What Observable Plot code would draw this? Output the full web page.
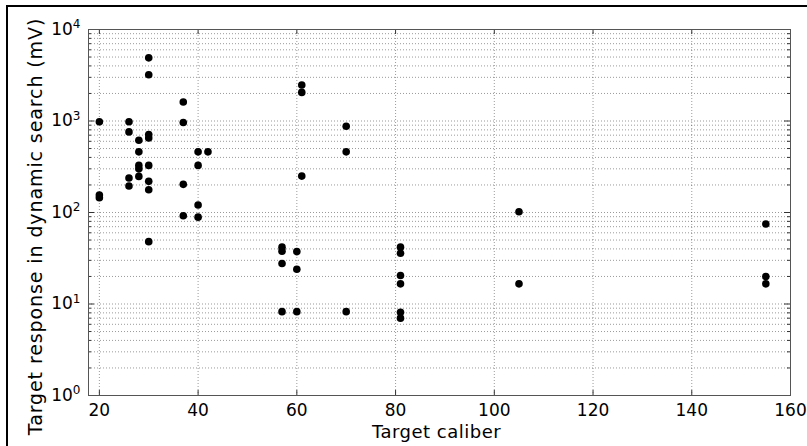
<!DOCTYPE html>
<html><head><meta charset="utf-8">
<script src="https://cdn.jsdelivr.net/npm/d3@7"></script>
<script src="https://cdn.jsdelivr.net/npm/@observablehq/plot@0.6"></script>
<style>
body{margin:0;background:#fff;}
#wrap{position:relative;width:807px;height:446px;overflow:hidden;}
#wrap::before{content:"";position:absolute;left:6px;top:5px;right:-10px;bottom:-10px;border-top:2px solid #000;border-left:2px solid #000;pointer-events:none;}
svg{display:block;}
</style></head><body><div id="wrap"></div>
<script>
const caliber = [
  20,20,20,
  26,26,26,26,
  28,28,28,28,28,
  30,30,30,30,30,30,30,30,
  37,37,37,37,
  40,40,40,40,
  42,
  57,57,57,57,
  60,60,60,
  61,61,61,
  70,70,70,
  81,81,81,81,81,81,
  105,105,
  155,155,155
];
const response = [
  980,155,145,
  980,760,238,195,
  617,460,327,300,248,
  4900,3200,712,653,327,219,177,48,
  1614,962,203,92,
  460,327,121,89,
  460,
  41.8,37.8,27.7,8.25,
  37.4,24,8.25,
  2470,2055,250,
  877,460,8.25,
  41.8,35.9,20.5,16.6,8.1,7.0,
  102,16.6,
  75,20,16.6
];
const xTicks = [20,40,60,80,100,120,140,160];
const yTicks = [1,10,100,1000,10000];
const xDomain = [17.8,160];
const yDomain = [1,10000];

const data = caliber.map((c,i)=>({caliber:c, response:response[i]}));
const yMinor = [];
for (const d of [1,10,100,1000]) for (let m=2;m<=9;m++) yMinor.push(d*m);

const W=807,H=446,mL=88,mR=17,mT=29,mB=51;
const pxPerDecade=(H-mT-mB)/Math.log10(yDomain[1]/yDomain[0]);
const pxPerUnit=(W-mL-mR)/(xDomain[1]-xDomain[0]);
const yk=(px)=>Math.pow(10,px/pxPerDecade);
const xk=(px)=>px/pxPerUnit;

const grid = {stroke:"#000", strokeOpacity:0.4, strokeDasharray:"1,2", strokeWidth:1};
const tickCol="#333";

const chart = Plot.plot({
  width:W, height:H,
  marginLeft:mL, marginRight:mR, marginTop:mT, marginBottom:mB,
  style:{fontFamily:"'DejaVu Sans', sans-serif", fontSize:"17px", background:"#fff", color:"#000"},
  x:{domain:xDomain, ticks:xTicks},
  y:{type:"log", domain:yDomain, ticks:yTicks},
  marks:[
    Plot.ruleX(xTicks,{x:d=>d, ...grid}),
    Plot.ruleY(yTicks.concat(yMinor),{y:d=>d, ...grid}),
    Plot.ruleX(xTicks,{x:d=>d, y1:yDomain[0], y2:yDomain[0]*yk(5), stroke:tickCol}),
    Plot.ruleX(xTicks,{x:d=>d, y1:yDomain[1]/yk(5), y2:yDomain[1], stroke:tickCol}),
    Plot.ruleY(yTicks,{y:d=>d, x1:xDomain[0], x2:xDomain[0]+xk(6), stroke:tickCol}),
    Plot.ruleY(yTicks,{y:d=>d, x1:xDomain[1]-xk(6), x2:xDomain[1], stroke:tickCol}),
    Plot.ruleY(yMinor,{y:d=>d, x1:xDomain[0], x2:xDomain[0]+xk(3), stroke:tickCol}),
    Plot.ruleY(yMinor,{y:d=>d, x1:xDomain[1]-xk(3), x2:xDomain[1], stroke:tickCol}),
    Plot.frame({stroke:"#555", strokeWidth:1}),
    Plot.axisX({ticks:xTicks, tickSize:0, tickPadding:8, label:null, tickFormat:d=>String(d)}),
    Plot.axisY({ticks:yTicks, tickSize:0, tickPadding:8, label:null, tickFormat:d=>"10|"+Math.round(Math.log10(d))}),
    Plot.text(["Target caliber"],{frameAnchor:"bottom", dx:-3, dy:42, fontSize:18, fill:"#000"}),
    Plot.text(["Target response in dynamic search (mV)"],{frameAnchor:"left", textAnchor:"middle", rotate:-90, dx:-53, dy:14, fontSize:19, fill:"#000"}),
    Plot.dot(data,{x:"caliber", y:"response", r:3.8, fill:"#000", stroke:"none"})
  ]
});
document.getElementById("wrap").appendChild(chart);
d3.select(chart).selectAll('g[aria-label="text"] text').each(function(){
  const t=this.textContent;
  if (t.startsWith("Target response")) this.setAttribute("letter-spacing","0.9");
  if (t==="Target caliber") this.setAttribute("letter-spacing","0.5");
});
d3.select(chart).selectAll('g[aria-label="y-axis tick label"] text').each(function(){
  const t=this.textContent; if(!t.includes("|")) return;
  const [b,e]=t.split("|");
  const sel=d3.select(this); sel.text(null);
  sel.append("tspan").text(b);
  sel.append("tspan").attr("dy","-0.55em").attr("font-size","12px").text(e);
});
</script></body></html>
